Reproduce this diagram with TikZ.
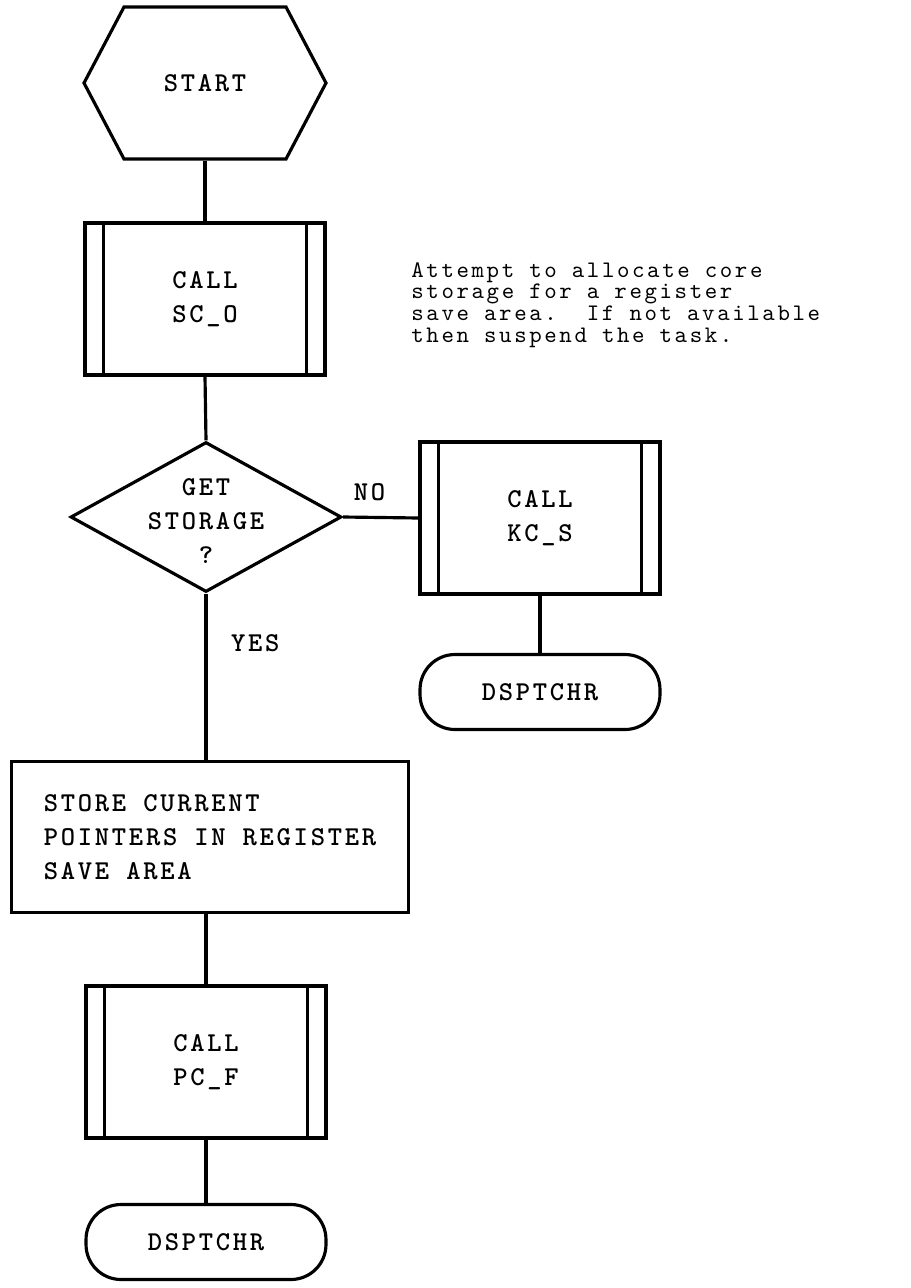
\documentclass[tikz,border=0pt]{standalone}
\usepackage{fontspec}
\usetikzlibrary{shapes.geometric}
\setlength{\lineskiplimit}{-20pt}
\newfontfamily\boxfamily[LetterSpace=10]{lmmonolt10-bold.otf}
\newfontfamily\notefamily[LetterSpace=11]{lmmono10-regular.otf}
\newcommand{\boxfont}{\boxfamily\fontsize{15.5pt}{19.5pt}\selectfont}
\newcommand{\notefont}{\notefamily\fontsize{13.5pt}{12.4pt}\selectfont}

\begin{document}
\begin{tikzpicture}[x=0.02cm, y=-0.02cm, line width=1.8pt,
        every node/.style={font=\boxfont},
        callbox/.style={draw, minimum width=4.8cm, minimum height=3.04cm, align=center},
        decision/.style={draw, diamond, minimum width=5.42cm, minimum height=3cm, inner sep=0pt},
        terminal/.style={draw, rounded corners=0.7cm, minimum width=4.8cm, minimum height=1.5cm}]
        \useasboundingbox (0, 0) rectangle (911, 1288);

        \node[minimum width=4.8cm, minimum height=3.06cm] (start) at (205, 83) {START};
        \draw (start.center) +(-121, 0) -- +(-81, -76) -- +(81, -76) -- +(121, 0) -- +(81, 76) -- +(-81, 76) -- cycle;

        \node[callbox] (sco) at (205, 299) {CALL\\SC\_O};
        \node[decision] (get) at (206, 517) {};
        \node[align=center] (gettxt) at (206, 521) {GET\\STORAGE\\?};
        \node[callbox] (kcs) at (540, 518) {CALL\\KC\_S};
        \node[terminal] (dsp1) at (540, 692) {DSPTCHR};
        \node[draw, minimum width=7.94cm, minimum height=3.02cm, align=left] (store) at (210, 837)
            {STORE CURRENT\\POINTERS IN REGISTER\\SAVE AREA};
        \node[callbox] (pcf) at (206, 1062) {CALL\\PC\_F};
        \node[terminal] (dsp2) at (206, 1242) {DSPTCHR};

        \foreach \b in {sco, kcs, pcf}
            \draw ([xshift=0.4cm]\b.north west) -- ([xshift=0.4cm]\b.south west)
                  ([xshift=-0.4cm]\b.north east) -- ([xshift=-0.4cm]\b.south east);

        \draw (start.south) -- (sco.north);
        \draw (sco.south) -- (get.north);
        \draw (get.east) -- node[above=5pt, pos=0.35] (no) {NO} (kcs.west);
        \draw (kcs.south) -- (dsp1.north);
        \draw (get.south) -- node[right=10pt, pos=0.3] (yes) {YES} (get.south |- store.north);
        \draw (store.south -| pcf.north) -- (pcf.north);
        \draw (pcf.south) -- (dsp2.north);

        \node[anchor=west, align=left, font=\notefont] (note) at (404, 305)
            {Attempt to allocate core\\storage for a register\\save area.~~If not available\\then suspend the task.};
    \end{tikzpicture}
\end{document}
